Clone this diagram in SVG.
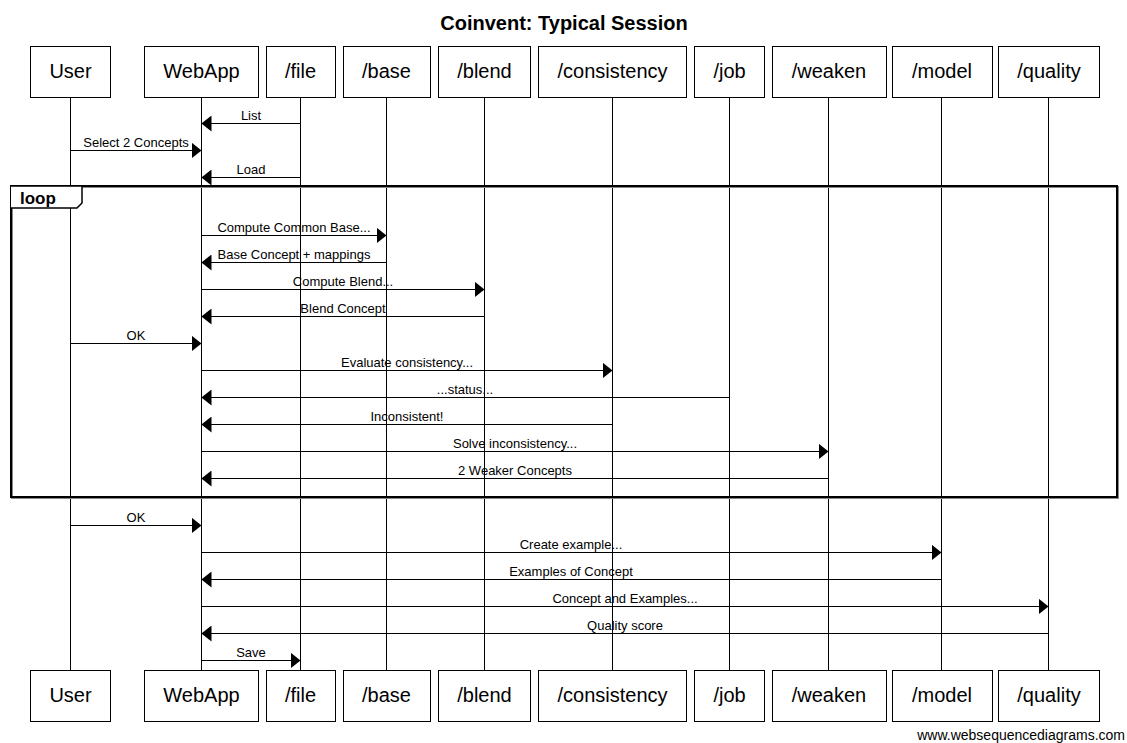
<svg xmlns="http://www.w3.org/2000/svg" width="1127" height="743" viewBox="0 0 1127 743">
<defs>
<style>
.box{fill:#fff;stroke:#000;stroke-width:1}
.pl{font-family:"Liberation Sans",Arial,sans-serif;font-size:20px;text-anchor:middle;fill:#000}
.life{stroke:#000;stroke-width:1}
.msg{stroke:#000;stroke-width:1;fill:none}
.ml{font-family:"Liberation Sans",Arial,sans-serif;font-size:13px;text-anchor:middle;fill:#000}
</style>
<marker id="ah" viewBox="0 0 10 16" refX="10" refY="8" markerWidth="10" markerHeight="16" markerUnits="userSpaceOnUse" orient="auto">
<path d="M0,0 L10,8 L0,16 Z" fill="#000"/>
</marker>
</defs>
<rect width="1127" height="743" fill="#fff"/>
<text x="564" y="30" font-family="'Liberation Sans',Arial,sans-serif" font-size="20" font-weight="bold" text-anchor="middle">Coinvent: Typical Session</text>

<g id="lifelines">
<line class="life" x1="70.5" y1="98" x2="70.5" y2="670"/>
<line class="life" x1="201.5" y1="98" x2="201.5" y2="670"/>
<line class="life" x1="300.5" y1="98" x2="300.5" y2="670"/>
<line class="life" x1="386.5" y1="98" x2="386.5" y2="670"/>
<line class="life" x1="484.5" y1="98" x2="484.5" y2="670"/>
<line class="life" x1="612.5" y1="98" x2="612.5" y2="670"/>
<line class="life" x1="729.5" y1="98" x2="729.5" y2="670"/>
<line class="life" x1="828.5" y1="98" x2="828.5" y2="670"/>
<line class="life" x1="941.5" y1="98" x2="941.5" y2="670"/>
<line class="life" x1="1048.5" y1="98" x2="1048.5" y2="670"/>
</g>

<g id="loop-frame">
<rect x="12" y="187" width="1106" height="311" fill="none" stroke="#888" stroke-width="2"/>
<rect x="11" y="186" width="1106" height="311" fill="none" stroke="#000" stroke-width="2"/>
<path d="M11,186 L82,186 L82,203 L77,208 L11,208" fill="#fff" stroke="#000" stroke-width="1.5"/>
<text x="20" y="204" font-family="'Liberation Sans',Arial,sans-serif" font-size="17" font-weight="bold">loop</text>
</g>

<g id="participant-User"><rect class="box" x="30.5" y="46.5" width="80" height="51"/><text class="pl" x="70.5" y="78">User</text>
<rect class="box" x="30.5" y="670.5" width="80" height="51"/><text class="pl" x="70.5" y="702">User</text></g>
<g id="participant-WebApp"><rect class="box" x="144.5" y="46.5" width="114" height="51"/><text class="pl" x="201.5" y="78">WebApp</text>
<rect class="box" x="144.5" y="670.5" width="114" height="51"/><text class="pl" x="201.5" y="702">WebApp</text></g>
<g id="participant-file"><rect class="box" x="266.5" y="46.5" width="69" height="51"/><text class="pl" x="300.5" y="78">/file</text>
<rect class="box" x="266.5" y="670.5" width="69" height="51"/><text class="pl" x="300.5" y="702">/file</text></g>
<g id="participant-base"><rect class="box" x="343.5" y="46.5" width="87" height="51"/><text class="pl" x="386.5" y="78">/base</text>
<rect class="box" x="343.5" y="670.5" width="87" height="51"/><text class="pl" x="386.5" y="702">/base</text></g>
<g id="participant-blend"><rect class="box" x="438.5" y="46.5" width="92" height="51"/><text class="pl" x="484.5" y="78">/blend</text>
<rect class="box" x="438.5" y="670.5" width="92" height="51"/><text class="pl" x="484.5" y="702">/blend</text></g>
<g id="participant-consistency"><rect class="box" x="538.5" y="46.5" width="148" height="51"/><text class="pl" x="612.5" y="78">/consistency</text>
<rect class="box" x="538.5" y="670.5" width="148" height="51"/><text class="pl" x="612.5" y="702">/consistency</text></g>
<g id="participant-job"><rect class="box" x="694.5" y="46.5" width="70" height="51"/><text class="pl" x="729.5" y="78">/job</text>
<rect class="box" x="694.5" y="670.5" width="70" height="51"/><text class="pl" x="729.5" y="702">/job</text></g>
<g id="participant-weaken"><rect class="box" x="772.5" y="46.5" width="114" height="51"/><text class="pl" x="829" y="78">/weaken</text>
<rect class="box" x="772.5" y="670.5" width="114" height="51"/><text class="pl" x="829" y="702">/weaken</text></g>
<g id="participant-model"><rect class="box" x="892.5" y="46.5" width="100" height="51"/><text class="pl" x="942" y="78">/model</text>
<rect class="box" x="892.5" y="670.5" width="100" height="51"/><text class="pl" x="942" y="702">/model</text></g>
<g id="participant-quality"><rect class="box" x="998.5" y="46.5" width="101" height="51"/><text class="pl" x="1049" y="78">/quality</text>
<rect class="box" x="998.5" y="670.5" width="101" height="51"/><text class="pl" x="1049" y="702">/quality</text></g>

<g id="connectors">
<line class="msg" x1="300.5" y1="123.5" x2="201.5" y2="123.5" marker-end="url(#ah)"/><text class="ml" x="251" y="120">List</text>
<line class="msg" x1="70.5" y1="150.5" x2="201.5" y2="150.5" marker-end="url(#ah)"/><text class="ml" x="136" y="147">Select 2 Concepts</text>
<line class="msg" x1="300.5" y1="177.5" x2="201.5" y2="177.5" marker-end="url(#ah)"/><text class="ml" x="251" y="174">Load</text>
<line class="msg" x1="201.5" y1="235.5" x2="386.5" y2="235.5" marker-end="url(#ah)"/><text class="ml" x="294" y="232">Compute Common Base...</text>
<line class="msg" x1="386.5" y1="262.5" x2="201.5" y2="262.5" marker-end="url(#ah)"/><text class="ml" x="294" y="259">Base Concept + mappings</text>
<line class="msg" x1="201.5" y1="289.5" x2="484.5" y2="289.5" marker-end="url(#ah)"/><text class="ml" x="343" y="286">Compute Blend...</text>
<line class="msg" x1="484.5" y1="316.5" x2="201.5" y2="316.5" marker-end="url(#ah)"/><text class="ml" x="343" y="313">Blend Concept</text>
<line class="msg" x1="70.5" y1="343.5" x2="201.5" y2="343.5" marker-end="url(#ah)"/><text class="ml" x="136" y="340">OK</text>
<line class="msg" x1="201.5" y1="370.5" x2="612.5" y2="370.5" marker-end="url(#ah)"/><text class="ml" x="407" y="367">Evaluate consistency...</text>
<line class="msg" x1="729.5" y1="397.5" x2="201.5" y2="397.5" marker-end="url(#ah)"/><text class="ml" x="465" y="394">...status...</text>
<line class="msg" x1="612.5" y1="424.5" x2="201.5" y2="424.5" marker-end="url(#ah)"/><text class="ml" x="407" y="421">Inconsistent!</text>
<line class="msg" x1="201.5" y1="451.5" x2="828.5" y2="451.5" marker-end="url(#ah)"/><text class="ml" x="515" y="448">Solve inconsistency...</text>
<line class="msg" x1="828.5" y1="478.5" x2="201.5" y2="478.5" marker-end="url(#ah)"/><text class="ml" x="515" y="475">2 Weaker Concepts</text>
<line class="msg" x1="70.5" y1="525.5" x2="201.5" y2="525.5" marker-end="url(#ah)"/><text class="ml" x="136" y="522">OK</text>
<line class="msg" x1="201.5" y1="552.5" x2="941.5" y2="552.5" marker-end="url(#ah)"/><text class="ml" x="571" y="549">Create example...</text>
<line class="msg" x1="941.5" y1="579.5" x2="201.5" y2="579.5" marker-end="url(#ah)"/><text class="ml" x="571" y="576">Examples of Concept</text>
<line class="msg" x1="201.5" y1="606.5" x2="1048.5" y2="606.5" marker-end="url(#ah)"/><text class="ml" x="625" y="603">Concept and Examples...</text>
<line class="msg" x1="1048.5" y1="633.5" x2="201.5" y2="633.5" marker-end="url(#ah)"/><text class="ml" x="625" y="630">Quality score</text>
<line class="msg" x1="201.5" y1="660.5" x2="300.5" y2="660.5" marker-end="url(#ah)"/><text class="ml" x="251" y="657">Save</text>
</g>

<text x="1125" y="740" font-family="'Liberation Sans',Arial,sans-serif" font-size="14" text-anchor="end">www.websequencediagrams.com</text>
</svg>
